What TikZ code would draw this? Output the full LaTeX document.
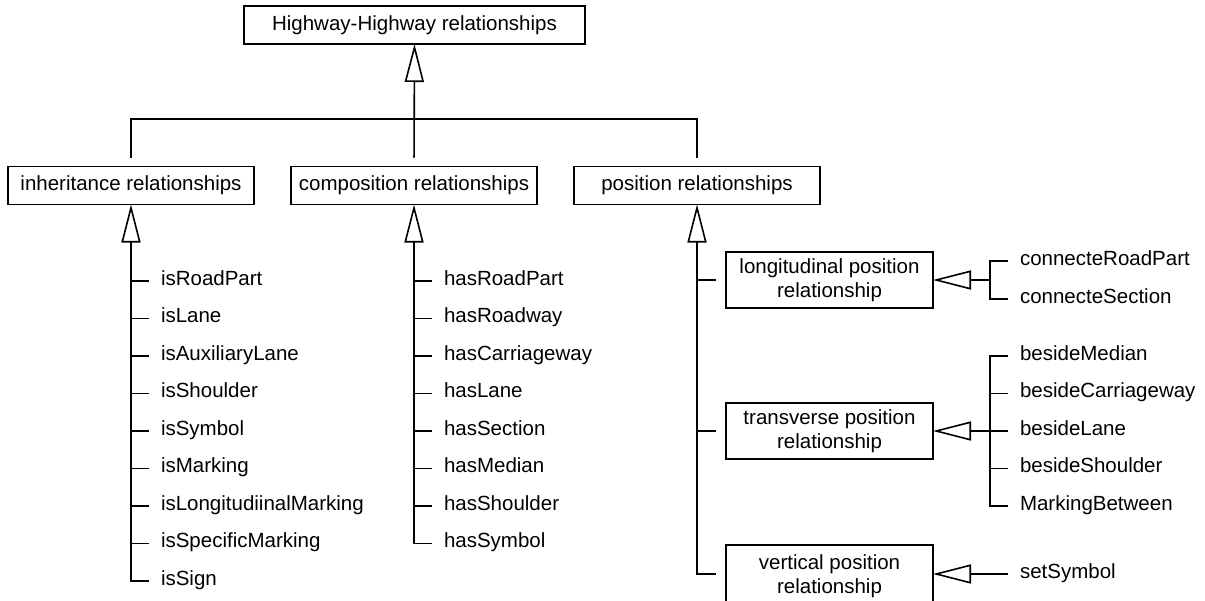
\documentclass[tikz,border=0pt]{standalone}
\usepackage{fontspec}
\setmainfont{Liberation Sans}
\usepackage{tikz}
\usetikzlibrary{arrows.meta}

\tikzset{
    box/.style={draw, line width=1.6pt, align=center, inner sep=0pt, outer sep=0pt},
    item/.style={anchor=west, inner xsep=12pt, inner ysep=0pt, outer sep=0pt, text height=0.88em, text depth=0pt},
    link/.style={line width=1.6pt},
    generalize/.style={link, -{Triangle[open, length=38pt, width=19pt]}}
}

\begin{document}
\begin{tikzpicture}[x=1pt, y=-1pt, font=\fontsize{20.5pt}{23.5pt}\selectfont]
    \useasboundingbox (0,0) rectangle (1205,600);
    \node[box, minimum width=341pt, minimum height=38pt] (hh) at (414.5,25) {Highway-Highway relationships};
    \node[box, minimum width=246pt, minimum height=38pt] (inh) at (131,185.5) {inheritance relationships};
    \node[box, minimum width=246pt, minimum height=38pt] (comp) at (414,185.5) {composition relationships};
    \node[box, minimum width=246pt, minimum height=38pt] (pos) at (697,185.5) {position relationships};
    \node[box, minimum width=207pt, minimum height=56pt] (lon) at (829.5,280) {longitudinal position\\relationship};
    \node[box, minimum width=207pt, minimum height=56pt] (tra) at (829.5,431) {transverse position\\relationship};
    \node[box, minimum width=207pt, minimum height=62pt] (ver) at (829.5,576) {vertical position\\relationship};

    \coordinate (bar) at (414,119);
    \draw[link, shorten <=9pt, shorten >=9pt] (inh.north) |- (bar) -| (pos.north);
    \draw[generalize, shorten <=9pt] (comp.north) -- (hh.south);

    \foreach \t [count=\i] in {isRoadPart, isLane, isAuxiliaryLane, isShoulder, isSymbol, isMarking, isLongitudiinalMarking, isSpecificMarking, isSign}
        \node[item] (inh\i) at (149,{243.5+37.5*\i}) {\t};
    \draw[generalize] (inh9.west) -| (inh.south);
    \foreach \i in {1,...,8}
        \draw[link] (inh\i.west) -- (inh\i.west -| inh.south);

    \foreach \t [count=\i] in {hasRoadPart, hasRoadway, hasCarriageway, hasLane, hasSection, hasMedian, hasShoulder, hasSymbol}
        \node[item] (comp\i) at (432,{243.5+37.5*\i}) {\t};
    \draw[generalize] (comp8.west) -| (comp.south);
    \foreach \i in {1,...,7}
        \draw[link] (comp\i.west) -- (comp\i.west -| comp.south);

    \node[item] (ver1) at (1008,574) {setSymbol};
    \coordinate (verj) at (ver.west |- ver1.west);
    \draw[generalize, shorten <=10pt] (verj) -| (pos.south);
    \draw[link, shorten <=10pt] (lon.west) -- (lon.west -| pos.south);
    \draw[link, shorten <=10pt] (tra.west) -- (tra.west -| pos.south);

    \foreach \t [count=\i] in {connecteRoadPart, connecteSection}
        \node[item] (lon\i) at (1008,{223+38*\i}) {\t};
    \coordinate (lonj) at (990,280);
    \draw[link] (lon1.west) -| (lonj) |- (lon2.west);
    \draw[generalize] (lonj) -- (lon.east);

    \foreach \t [count=\i] in {besideMedian, besideCarriageway, besideLane, besideShoulder, MarkingBetween}
        \node[item] (tra\i) at (1008,{318.5+37.5*\i}) {\t};
    \coordinate (traj) at (990,431);
    \draw[link] (tra1.west) -| (traj) |- (tra5.west);
    \draw[link] (tra2.west) -- (tra2.west -| traj);
    \draw[link] (tra4.west) -- (tra4.west -| traj);
    \draw[generalize] (tra3.west) -- (tra.east);

    \draw[generalize] (ver1.west) -- (ver.east |- ver1.west);
\end{tikzpicture}
\end{document}
